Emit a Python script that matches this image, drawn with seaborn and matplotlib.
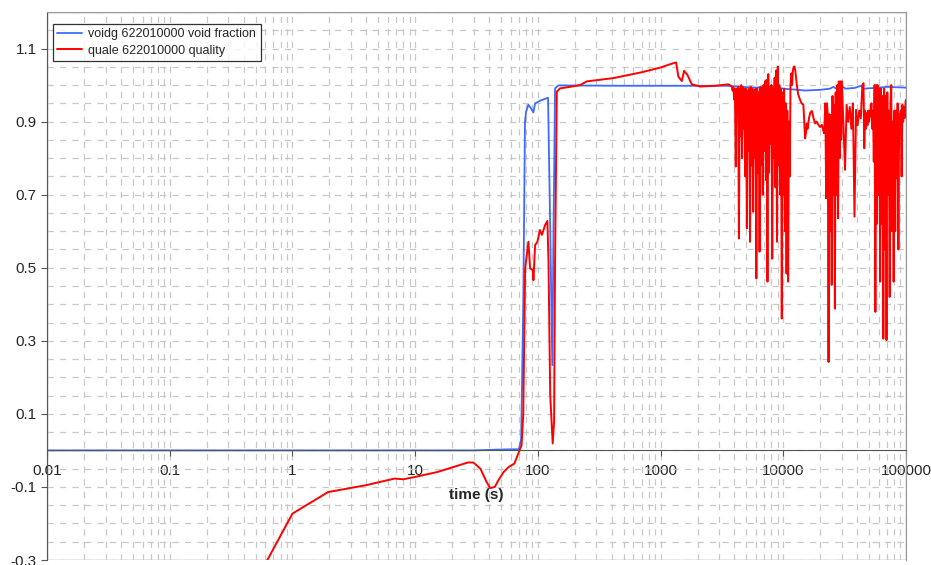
import matplotlib
matplotlib.use("Agg")
import matplotlib.pyplot as plt
import numpy as np
import pandas as pd
import seaborn as sns
from matplotlib.patches import Rectangle
from matplotlib.ticker import FixedLocator, FuncFormatter, LogLocator, NullFormatter

# void fraction (voidg 622010000)
voidg_t = [0.01, 30, 45, 60, 70, 73, 76, 78.5, 80.1, 83.6, 88, 91.9, 94.9, 104, 118, 121,
           126, 131, 134, 138, 147, 500, 3500, 4500, 6000, 8000, 10000, 12000, 15000,
           20000, 24000, 25500, 27000, 30000, 32000, 38000, 43000, 45000, 60000, 70000, 100000]
voidg_v = [0.0, 0.0, 0.002, 0.003, 0.003, 0.03, 0.4, 0.90, 0.927, 0.946, 0.936, 0.925, 0.95,
           0.957, 0.964, 0.965, 0.608, 0.233, 0.6, 0.991, 0.999, 0.998, 0.998, 0.995, 0.993,
           0.996, 0.99, 0.988, 0.985, 0.987, 0.99, 0.995, 0.99, 0.998, 0.99, 0.992, 0.998,
           0.99, 0.993, 0.995, 0.993]

# quality (quale 622010000), smooth early part
quale_early_t = [0.5, 1.0, 1.95, 4.0, 6.8, 8.0, 9.85, 15.2, 22, 26.9, 29.8, 34, 38, 40.8,
                 44.5, 48, 52.6, 58, 64.3, 68, 73.6, 76, 78.7, 83.7, 86.4, 90.8, 92, 94.9,
                 99, 104, 108, 111, 114.5, 119.5, 122, 126, 132, 135.5, 138, 142.6, 151.7,
                 190, 221, 250, 412, 700, 1000, 1195, 1337, 1396, 1488, 1554, 1652, 1795,
                 2100, 2800, 3570]
quale_early_v = [-0.36, -0.173, -0.114, -0.095, -0.077, -0.079, -0.073, -0.059, -0.042,
                 -0.033, -0.033, -0.05, -0.085, -0.103, -0.100, -0.08, -0.059, -0.045,
                 -0.036, -0.015, 0.014, 0.1, 0.498, 0.571, 0.498, 0.494, 0.466, 0.562,
                 0.571, 0.603, 0.59, 0.603, 0.617, 0.628, 0.516, 0.152, 0.019, 0.078,
                 0.516, 0.982, 0.991, 0.996, 1.0, 1.01, 1.019, 1.035, 1.048, 1.057, 1.062,
                 1.023, 1.011, 1.039, 1.028, 1.002, 0.996, 0.998, 1.002]

# first oscillating burst
burst1_t = [3800, 3857, 3915, 3974, 4033, 4094, 4155, 4218, 4281, 4345, 4410, 4476, 4544,
            4612, 4681, 4751, 4823, 4895, 4969, 5043, 5119, 5196, 5274, 5353, 5433, 5515,
            5597, 5681, 5767, 5853, 5941, 6030, 6120, 6212, 6305, 6400, 6496, 6593, 6692,
            6793, 6895, 6998, 7103, 7210, 7318, 7428, 7539, 7652, 7767, 7884, 8002, 8122,
            8244, 8368, 8493, 8621, 8750, 8881, 9014, 9150, 9287, 9426, 9568, 9711, 9857,
            10005, 10155, 10307, 10462, 10619, 10778, 10940, 11104, 11270, 11439, 11611,
            11785, 11962, 12141, 12323, 12508, 12696, 12886]
burst1_v = [0.996, 0.985, 0.995, 0.96, 0.99, 0.777, 0.99, 0.93, 0.995, 0.58, 0.99, 0.86,
            1.0, 0.80, 0.995, 0.88, 0.99, 0.75, 0.99, 0.608, 0.985, 0.82, 0.99, 0.571,
            0.995, 0.78, 0.99, 0.653, 0.985, 0.80, 0.99, 0.471, 0.99, 0.76, 0.98, 0.544,
            0.995, 0.781, 0.99, 0.70, 1.0, 0.82, 1.01, 0.74, 1.014, 0.462, 1.03, 0.76, 0.99,
            0.84, 1.0, 0.525, 0.99, 0.80, 1.02, 0.72, 1.04, 0.571, 1.051, 0.78, 1.0, 0.70,
            0.99, 0.361, 0.98, 0.70, 0.99, 0.60, 0.95, 0.484, 0.93, 0.462, 0.90, 0.75, 1.0,
            1.032, 1.0, 1.04, 1.05, 1.051, 1.04, 1.02, 1.0]

# calmer stretch between the bursts
quale_mid_t = [13200, 13700, 14100, 14570, 15050, 15300, 15520, 15740, 16200, 16600, 17100,
               17600, 18170, 18700, 19320, 19900, 20600, 21000, 21500]
quale_mid_v = [0.975, 0.959, 0.95, 0.946, 0.854, 0.87, 0.895, 0.88, 0.91, 0.925, 0.929,
               0.91, 0.895, 0.90, 0.891, 0.885, 0.891, 0.88, 0.868]

# second oscillating burst
burst2_t = [22000, 22330, 22665, 23005, 23350, 23700, 24056, 24417, 24783, 25155, 25532,
            25915, 26304, 26699, 27099, 27506, 27918, 28337, 28762, 29194, 29632, 30000,
            30900, 31830, 32780, 33770, 34780, 35820, 36900, 38000, 39140, 40320, 41530,
            42770, 44060, 45000, 45675, 46360, 47055, 47761, 48477, 49205, 49943, 50692,
            51452, 52224, 53007, 53802, 54609, 55428, 56260, 57104, 57960, 58830, 59712,
            60608, 61517, 62440, 63376, 64327, 65292, 66271, 67265, 68274, 69298, 70338,
            71393, 72464, 73551, 74654, 75774, 76910, 78064, 79235, 80424, 81630, 82854,
            84097, 85359, 86639, 87939, 89258, 90597, 91956, 93335, 94735, 96156, 97598,
            99062, 100000]
burst2_v = [0.95, 0.69, 0.95, 0.92, 0.242, 0.92, 0.60, 0.918, 0.453, 0.97, 0.70, 0.946,
            0.388, 0.98, 0.70, 1.0, 0.635, 1.01, 0.80, 1.01, 0.85, 1.01, 0.89, 0.768, 0.946,
            0.90, 0.94, 0.88, 0.95, 0.64, 0.932, 0.89, 0.93, 0.909, 1.0, 1.005, 0.827, 0.93,
            0.88, 0.923, 0.89, 0.93, 0.90, 0.93, 0.914, 0.95, 0.88, 0.93, 0.79, 1.0, 0.379,
            1.0, 0.62, 1.0, 0.699, 0.99, 0.462, 0.99, 0.62, 0.97, 0.306, 0.99, 0.55, 0.97,
            0.302, 0.98, 0.70, 0.93, 0.42, 0.95, 1.0, 0.60, 0.90, 0.462, 0.93, 0.60, 0.93,
            0.745, 0.95, 0.55, 0.92, 0.873, 0.93, 0.75, 0.946, 0.90, 0.94, 0.91, 0.955, 0.96]

x_ticks = [0.01, 0.1, 1, 10, 100, 1000, 10000, 100000]
y_ticks = [-0.3, -0.1, 0.1, 0.3, 0.5, 0.7, 0.9, 1.1]

sns.set_style("white")
plt.rcParams["font.family"] = ["Liberation Sans", "DejaVu Sans"]

voidg = pd.DataFrame({"t": voidg_t, "v": voidg_v})
quale = pd.DataFrame({
    "t": quale_early_t + burst1_t + quale_mid_t + burst2_t,
    "v": quale_early_v + burst1_v + quale_mid_v + burst2_v,
})

fig = plt.figure(figsize=(9.31, 5.65), dpi=100)
ax = fig.add_axes([0.0505, 0.0088, 0.9227, 0.97])

sns.lineplot(data=voidg, x="t", y="v", ax=ax, color="#3d6bff", linewidth=1.3,
             estimator=None, sort=False, label="voidg 622010000 void fraction")
sns.lineplot(data=quale, x="t", y="v", ax=ax, color="#ff0000", linewidth=1.4,
             estimator=None, sort=False, label="quale 622010000 quality")

ax.set_xscale("log")
ax.set_xlim(0.01, 100000)
ax.set_ylim(-0.3, 1.2)

# grid: every 0.05 in y, every log minor in x
ax.yaxis.set_major_locator(FixedLocator(y_ticks))
ax.yaxis.set_minor_locator(FixedLocator(np.round(np.arange(-0.3, 1.2001, 0.05), 3)))
ax.xaxis.set_major_locator(FixedLocator(x_ticks))
ax.xaxis.set_minor_locator(LogLocator(base=10, subs=np.arange(2, 10)))
ax.xaxis.set_major_formatter(FuncFormatter(lambda v, p: f"{v:g}" if v < 1 else f"{int(v)}"))
ax.xaxis.set_minor_formatter(NullFormatter())
ax.yaxis.set_major_formatter(FuncFormatter(lambda v, p: f"{v:.1f}"))
ax.grid(True, which="both", color="#c8c8c8", linewidth=0.9, linestyle=(0, (5, 5)))
ax.set_axisbelow(True)

ax.spines["bottom"].set_position(("data", 0))
ax.spines["bottom"].set_color("#555555")
ax.spines["left"].set_color("#555555")
for s in ["top", "right"]:
    ax.spines[s].set_color("#999999")
ax.add_patch(Rectangle((0, 0), 1, 1, transform=ax.transAxes, fill=False,
                       edgecolor="#999999", linewidth=1.0, zorder=0.5))

ax.tick_params(axis="both", which="major", direction="out", length=4, width=0.8,
               color="#555555", labelsize=11, bottom=True, left=True)
ax.tick_params(axis="x", which="major", pad=6)
ax.tick_params(axis="both", which="minor", length=0)
ax.set_xlabel("time (s)", fontsize=11, fontweight="bold", labelpad=7)
ax.set_ylabel("")

leg = ax.legend(loc="upper left", bbox_to_anchor=(0.0066, 0.978), borderaxespad=0,
                fontsize=9, frameon=True, fancybox=False, handlelength=2.0,
                borderpad=0.35, labelspacing=0.35, handletextpad=0.5)
leg.get_frame().set_edgecolor("black")
leg.get_frame().set_linewidth(0.9)

fig.savefig("out.png", dpi=100)
